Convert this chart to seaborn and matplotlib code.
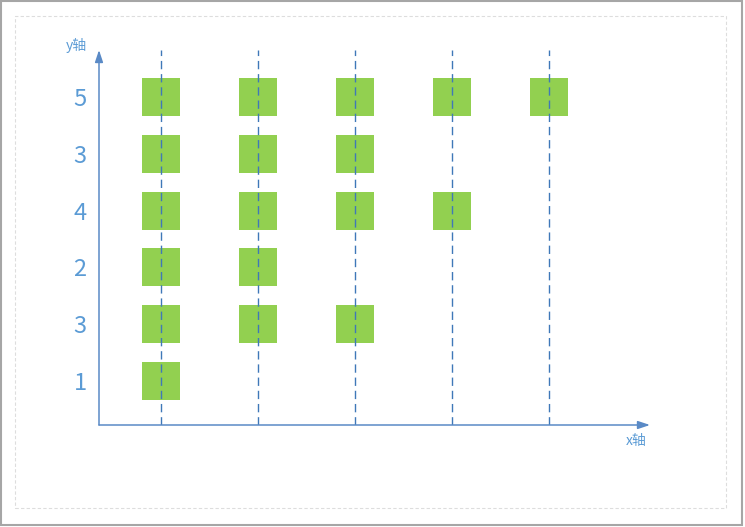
import matplotlib
matplotlib.use("Agg")
import matplotlib.pyplot as plt
import seaborn as sns
import pandas as pd
from matplotlib.patches import Rectangle

# ---- data ----
row_labels = ["1", "3", "2", "4", "3", "5"]      # bottom to top
row_counts = [1, 3, 2, 4, 3, 5]                  # number of squares in each row
columns = [1, 2, 3, 4, 5]
x_axis_label = "x轴"
y_axis_label = "y轴"

records = []
for r, n in enumerate(row_counts):
    for c in columns[:n]:
        records.append({"col": c, "row": r})
df = pd.DataFrame(records)

sns.set_theme(style="white")
plt.rcParams['font.family'] = ['Noto Sans CJK SC', 'DejaVu Sans']

W, H = 745, 527
fig = plt.figure(figsize=(W / 100, H / 100), dpi=100)
fig.patch.set_facecolor("white")

# axes in pixel-derived figure fractions
left_px, right_px, top_px, bottom_px = 99, 650, 50, 425
ax = fig.add_axes([left_px / W, 1 - bottom_px / H,
                   (right_px - left_px) / W, (bottom_px - top_px) / H])
ax.set_facecolor("none")

blue_text = "#5B9BD5"
blue_line = "#5A8AC6"
green = "#92D050"

col_px0, col_step = 161, 97
row_px0, row_step = 381, 56.8
ax.set_xlim(1 + (left_px - col_px0) / col_step, 1 + (right_px - col_px0) / col_step)
ax.set_ylim((row_px0 - bottom_px) / row_step, (row_px0 - top_px) / row_step)

sns.scatterplot(data=df, x="col", y="row", marker="s", s=27.5 ** 2,
                color=green, linewidth=0, ax=ax, legend=False, zorder=2)

for c in columns:
    ax.axvline(c, color="#3F78B8", lw=1.0, ls=(0, (6, 3.5)), zorder=3)

for s in ax.spines.values():
    s.set_visible(False)

ax.set_xticks([])
ax.set_yticks(range(len(row_labels)))
ax.set_yticklabels(row_labels, fontsize=17, color=blue_text)
ax.tick_params(axis="y", length=0, pad=9)
ax.set_xlabel("")
ax.set_ylabel("")

# axis arrows
ax.annotate("", xy=(1.0, 0), xytext=(0, 0), xycoords="axes fraction",
            arrowprops=dict(arrowstyle="-|>,head_length=0.6,head_width=0.2",
                            color=blue_line, lw=1.1, shrinkA=0, shrinkB=0),
            zorder=4)
ax.annotate("", xy=(0, 1.0), xytext=(0, 0), xycoords="axes fraction",
            arrowprops=dict(arrowstyle="-|>,head_length=0.6,head_width=0.2",
                            color=blue_line, lw=1.1, shrinkA=0, shrinkB=0),
            zorder=4)

fig.text(76 / W, 1 - 45 / H, y_axis_label, fontsize=10, color=blue_text,
         ha="center", va="center")
fig.text(636 / W, 1 - 441 / H, x_axis_label, fontsize=10, color=blue_text,
         ha="center", va="center")

# borders
fig.add_artist(Rectangle((1 / W, 1 - 525 / H), 741 / W, 524 / H,
                         transform=fig.transFigure, fill=False,
                         edgecolor="#A6A6A6", lw=1.5))
fig.add_artist(Rectangle((15 / W, 1 - 508 / H), 711 / W, 492 / H,
                         transform=fig.transFigure, fill=False,
                         edgecolor="#DDDDDD", lw=0.8, ls=(0, (3, 2))))

fig.savefig("out.png", dpi=100, facecolor="white")
